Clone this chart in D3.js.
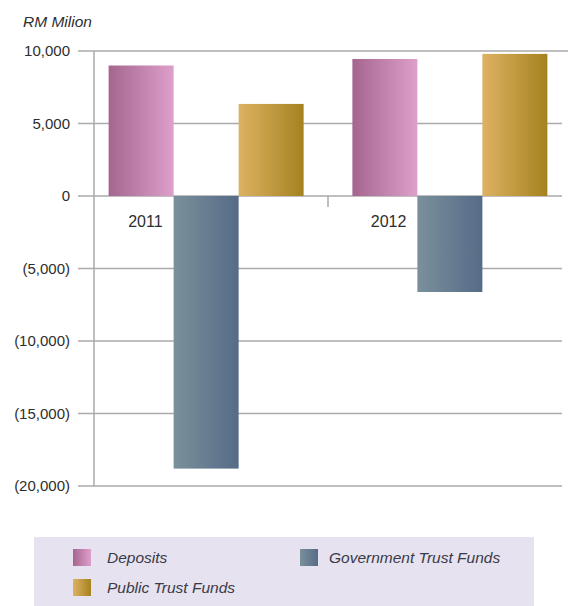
<!DOCTYPE html>
<html>
<head>
<meta charset="utf-8">
<script src="https://cdn.jsdelivr.net/npm/d3@7"></script>
<style>
  body { margin: 0; background: #fff; }
  text { font-family: "Liberation Sans", Arial, sans-serif; fill: #2e2e2e; }
</style>
</head>
<body>
<div id="chart"></div>
<script>
// data
var years = ["2011", "2012"];
var seriesNames = ["Deposits", "Government Trust Funds", "Public Trust Funds"];
var deposits = [9000, 9450];
var govTrust = [-18800, -6620];
var publicTrust = [6350, 9800];
var yTicks = [-20000, -15000, -10000, -5000, 0, 5000, 10000];

var seriesValues = [deposits, govTrust, publicTrust];
var colors = [
  ["#a4668f", "#dea0cb"],
  ["#7a909b", "#566b87"],
  ["#ddb263", "#a5821f"]
];

var width = 568, height = 606;
var margin = {top: 51, right: 6, bottom: 120, left: 94};

var svg = d3.select("#chart").append("svg")
    .attr("width", width)
    .attr("height", height);

var defs = svg.append("defs");
colors.forEach(function(c, i) {
  var g = defs.append("linearGradient")
      .attr("id", "grad" + i)
      .attr("x1", "0%").attr("x2", "100%")
      .attr("y1", "0%").attr("y2", "0%");
  g.append("stop").attr("offset", "0%").attr("stop-color", c[0]);
  g.append("stop").attr("offset", "100%").attr("stop-color", c[1]);
});

var x0 = d3.scaleBand()
    .domain(years)
    .range([margin.left, width - margin.right])
    .paddingInner(0.2)
    .paddingOuter(0.06);

var x1 = d3.scaleBand()
    .domain(seriesNames)
    .range([0, x0.bandwidth()]);

var y = d3.scaleLinear()
    .domain([-20000, 10000])
    .range([486, 51]);

var fmt = function(d) {
  var s = d3.format(",")(Math.abs(d));
  return d < 0 ? "(" + s + ")" : s;
};

// gridlines + tick marks
svg.append("g").selectAll("line")
    .data(yTicks)
    .enter().append("line")
    .attr("x1", 78)
    .attr("x2", function(d) { return d == 10000 ? 568 : 562; })
    .attr("y1", function(d) { return y(d); })
    .attr("y2", function(d) { return y(d); })
    .attr("stroke", "#aaa")
    .attr("stroke-width", 1.5);

// y labels
svg.append("g").selectAll("text")
    .data(yTicks)
    .enter().append("text")
    .attr("x", 70)
    .attr("y", function(d) { return y(d) + 5; })
    .attr("text-anchor", "end")
    .style("font-size", "15px")
    .text(fmt);

// y axis line
svg.append("line")
    .attr("x1", margin.left).attr("x2", margin.left)
    .attr("y1", y(10000)).attr("y2", y(-20000))
    .attr("stroke", "#aaa")
    .attr("stroke-width", 1.5);

// bars
var groups = svg.append("g").selectAll("g")
    .data(years)
    .enter().append("g")
    .attr("transform", function(d) { return "translate(" + x0(d) + ",0)"; });

groups.selectAll("rect")
    .data(function(d, i) {
      return seriesNames.map(function(s, j) { return {name: s, idx: j, value: seriesValues[j][i]}; });
    })
    .enter().append("rect")
    .attr("x", function(d) { return x1(d.name); })
    .attr("width", x1.bandwidth())
    .attr("y", function(d) { return y(Math.max(0, d.value)); })
    .attr("height", function(d) { return Math.abs(y(d.value) - y(0)); })
    .attr("fill", function(d) { return "url(#grad" + d.idx + ")"; });

// category divider tick
var mid = (x0(years[0]) + x0.bandwidth() + x0(years[1])) / 2;
svg.append("line")
    .attr("x1", mid).attr("x2", mid)
    .attr("y1", y(0)).attr("y2", y(0) + 11)
    .attr("stroke", "#aaa")
    .attr("stroke-width", 1.5);

// category labels
svg.append("g").selectAll("text")
    .data(years)
    .enter().append("text")
    .attr("x", function(d) { return x0(d) + x1(seriesNames[1]) - 11; })
    .attr("y", y(0) + 31)
    .attr("text-anchor", "end")
    .style("font-size", "16px")
    .text(function(d) { return d; });

// title
svg.append("text")
    .attr("x", 23)
    .attr("y", 27)
    .style("font-size", "15.5px")
    .style("font-style", "italic")
    .text("RM Milion");

// legend
var legend = svg.append("g");
legend.append("rect")
    .attr("x", 34).attr("y", 537)
    .attr("width", 500).attr("height", 69)
    .attr("fill", "#e6e2ef");

var legPos = [[73, 549, 34], [300, 549, 29], [73, 579, 34]];
var items = legend.selectAll("g.item")
    .data(seriesNames)
    .enter().append("g")
    .attr("class", "item")
    .attr("transform", function(d, i) { return "translate(" + legPos[i][0] + "," + legPos[i][1] + ")"; });

items.append("rect")
    .attr("width", 18).attr("height", 17)
    .attr("fill", function(d, i) { return "url(#grad" + i + ")"; });

items.append("text")
    .attr("x", function(d, i) { return legPos[i][2]; })
    .attr("y", 14)
    .style("font-size", "15.5px")
    .style("font-style", "italic")
    .style("fill", "#3a3a48")
    .text(function(d) { return d; });
</script>
</body>
</html>
